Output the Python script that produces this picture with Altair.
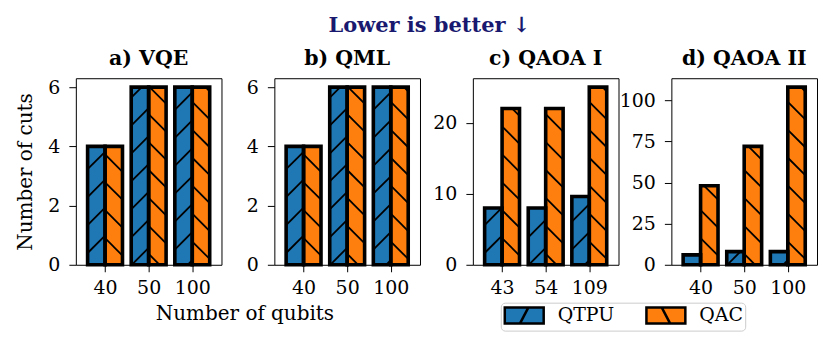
import altair as alt
import pandas as pd

# ---------------- data ----------------
TITLES = ["a) VQE", "b) QML", "c) QAOA I", "d) QAOA II"]
QUBITS = [["40", "50", "100"], ["40", "50", "100"], ["43", "54", "109"], ["40", "50", "100"]]
QTPU = [[4, 6, 6], [4, 6, 6], [8, 8, 9.6], [6, 8, 8]]
QAC = [[4, 6, 6], [4, 6, 6], [22, 22, 25], [48, 72, 108]]
YTICKS = [[0, 2, 4, 6], [0, 2, 4, 6], [0, 10, 20], [0, 25, 50, 75, 100]]
SERIES = ["QTPU", "QAC"]
COLORS = ["#1f77b4", "#ff7f0e"]
HATCH = {"QTPU": "/", "QAC": "\\"}

# ---------------- layout ----------------
W, H = 146, 187
XMIN, XMAX = -0.67, 2.67
BARW = 0.4
PERIOD = 28
FONT = "DejaVu Serif"
R = 9.0  # legend symbol radius (sqrt(size)/2)


def hatch_rows(x0, x1, v, ymax, kind):
    a = (x0 - XMIN) / (XMAX - XMIN) * W
    b = (x1 - XMIN) / (XMAX - XMIN) * W
    h = v / ymax * H
    rows = []
    for k in range(-20, 40):
        c = k * PERIOD
        if kind == "/":
            lo, hi = max(a, -c), min(b, h - c)
            if hi - lo <= 0.5:
                continue
            p = (lo, lo + c, hi, hi + c)
        else:
            lo, hi = max(a, c - h), min(b, c)
            if hi - lo <= 0.5:
                continue
            p = (lo, c - lo, hi, c - hi)
        rows.append({
            "hx": XMIN + p[0] / W * (XMAX - XMIN),
            "hy": p[1] / H * ymax,
            "hx2": XMIN + p[2] / W * (XMAX - XMIN),
            "hy2": p[3] / H * ymax,
        })
    return rows


def sym(kind):
    hw, hh, d = 19.5 / R, 8.0 / R, 4.2 / R
    box = "M-%.3f,-%.3fH%.3fV%.3fH-%.3fZ" % (hw, hh, hw, hh, hw)
    if kind == "/":
        return box + " M-%.3f,%.3fL%.3f,-%.3f" % (d, hh, d, hh)
    return box + " M-%.3f,-%.3fL%.3f,%.3f" % (d, hh, d, hh)


legend = alt.Legend(
    title=None,
    orient="none",
    legendX=426,
    legendY=225,
    direction="horizontal",
    symbolSize=(2 * R) ** 2,
    symbolOffset=11,
    symbolStrokeColor="black",
    symbolStrokeWidth=2.5,
    symbolOpacity=1,
    labelFont=FONT,
    labelFontSize=19,
    labelColor="black",
    labelOffset=23,
    columnPadding=26,
    padding=2,
    strokeColor="#cccccc",
    cornerRadius=4,
    fillColor="white",
)
color_scale = alt.Scale(domain=SERIES, range=COLORS)
shape_scale = alt.Scale(domain=SERIES, range=[sym(HATCH[s]) for s in SERIES])
stroke_scale = alt.Scale(domain=SERIES, range=["black", "black"])

panels = []
for i, t in enumerate(TITLES):
    ymax = 1.05 * max(QTPU[i] + QAC[i])
    rows, hrows = [], []
    for j, q in enumerate(QUBITS[i]):
        for s, vals, off in (("QTPU", QTPU[i], -BARW / 2), ("QAC", QAC[i], BARW / 2)):
            x0 = j + off - BARW / 2
            x1 = j + off + BARW / 2
            rows.append({"x0": x0, "x1": x1, "v": vals[j], "series": s, "qubits": q})
            hrows += hatch_rows(x0, x1, vals[j], ymax, HATCH[s])
    df = pd.DataFrame(rows)
    hdf = pd.DataFrame(hrows)

    label_expr = "[" + ",".join("'%s'" % q for q in QUBITS[i]) + "][datum.value]"
    if i == 0:
        xaxis = alt.Axis(values=[0, 1, 2], labelExpr=label_expr, title="Number of qubits",
                         titleX=169, titleY=55, titleAlign="center", titleBaseline="alphabetic")
    else:
        xaxis = alt.Axis(values=[0, 1, 2], labelExpr=label_expr, title=None)
    yaxis = alt.Axis(values=YTICKS[i], title="Number of cuts" if i == 0 else None)
    xs = alt.Scale(domain=[XMIN, XMAX], nice=False, zero=False)
    ys = alt.Scale(domain=[0, ymax], nice=False)

    fill = alt.Chart(df).mark_bar().encode(
        x=alt.X("x0:Q", scale=xs, axis=xaxis),
        x2="x1:Q",
        y=alt.Y("v:Q", scale=ys, axis=yaxis),
        y2=alt.datum(0),
        color=alt.Color("series:N", scale=color_scale, legend=legend),
    )
    hatch = alt.Chart(hdf).mark_rule(color="black", strokeWidth=1.8).encode(
        x=alt.X("hx:Q", scale=xs),
        y=alt.Y("hy:Q", scale=ys),
        x2="hx2:Q",
        y2="hy2:Q",
    )
    edge = alt.Chart(df).mark_bar(fillOpacity=0, stroke="black", strokeWidth=3.6, strokeJoin="miter").encode(
        x=alt.X("x0:Q", scale=xs),
        x2="x1:Q",
        y=alt.Y("v:Q", scale=ys),
        y2=alt.datum(0),
    )
    key = alt.Chart(df).mark_point(filled=True, opacity=0, size=(2 * R) ** 2, strokeWidth=2.5).encode(
        x=alt.X("x0:Q", scale=xs),
        y=alt.Y("v:Q", scale=ys),
        color=alt.Color("series:N", scale=color_scale, legend=legend),
        shape=alt.Shape("series:N", scale=shape_scale, legend=legend),
        stroke=alt.Stroke("series:N", scale=stroke_scale, legend=legend),
    )
    p = alt.layer(fill, hatch, edge, key).properties(
        width=W, height=H,
        title=alt.TitleParams(t, font=FONT, fontSize=20.5, fontWeight="bold", color="black", offset=9),
    )
    panels.append(p)

chart = alt.hconcat(*panels, spacing=53, bounds="flush").properties(
    title=alt.TitleParams("Lower is better \u2193", font=FONT, fontSize=21, fontWeight="bold",
                          color="#191970", anchor="middle", offset=12, dx=13),
    padding={"left": 7, "top": 6, "right": 5, "bottom": 5},
).configure(font=FONT).configure_view(
    stroke="black", strokeWidth=1
).configure_axis(
    grid=False, domain=False, tickColor="black", tickSize=7, tickWidth=1,
    labelFont=FONT, labelFontSize=19, labelColor="black", labelPadding=7,
    titleFont=FONT, titleFontSize=20, titleFontWeight="normal", titleColor="black",
).configure_axisY(titlePadding=12, labelPadding=9)

chart.save("out.html", embed_options={"renderer": "svg", "actions": False})
